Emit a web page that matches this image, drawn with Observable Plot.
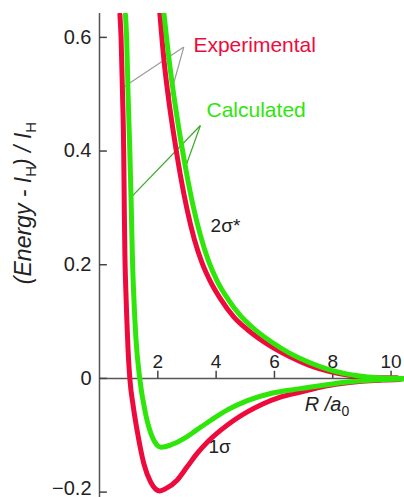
<!DOCTYPE html>
<html><head><meta charset="utf-8">
<script src="https://cdn.jsdelivr.net/npm/d3@7"></script>
<script src="https://cdn.jsdelivr.net/npm/@observablehq/plot@0.6"></script>
<style>
body{margin:0;background:#fff}
#chart{position:relative;width:404px;height:497px}
</style>
</head><body><div id="chart"></div>
<script>
// ---- data (R in a0, energy in units of I_H) ----
const expBondR = [0.70, 0.74, 0.79, 0.83, 0.85, 0.87, 0.90, 0.94, 0.98, 1.04, 1.16, 1.29, 1.52, 1.76, 1.93, 2.07, 2.30, 2.66, 3.00, 3.35, 3.72, 4.15, 4.60, 5.07, 5.60, 6.20, 6.90, 7.60, 8.30, 9.00, 9.70, 10.30];
const expBondE = [0.64, 0.60, 0.50, 0.40, 0.30, 0.22, 0.16, 0.10, 0.05, 0.00, -0.05, -0.0915, -0.150, -0.183, -0.195, -0.198, -0.193, -0.179, -0.156, -0.132, -0.111, -0.0915, -0.074, -0.059, -0.045, -0.033, -0.024, -0.015, -0.009, -0.005, -0.003, -0.002];

const calcBondR = [0.89, 0.93, 0.98, 1.04, 1.09, 1.13, 1.18, 1.25, 1.38, 1.58, 1.81, 1.97, 2.12, 2.45, 2.89, 3.35, 3.81, 4.40, 5.07, 5.90, 6.89, 7.80, 8.60, 9.40, 10.46];
const calcBondE = [0.64, 0.60, 0.50, 0.40, 0.30, 0.21, 0.14, 0.07, 0.00, -0.062, -0.103, -0.117, -0.121, -0.117, -0.106, -0.090, -0.074, -0.055, -0.039, -0.026, -0.018, -0.011, -0.006, -0.003, -0.001];

const expAntiR = [2.07, 2.21, 2.40, 2.58, 2.78, 3.00, 3.25, 3.52, 3.81, 4.15, 4.61, 5.07, 5.80, 6.50, 7.20, 7.90, 8.60, 9.30, 10.20];
const expAntiE = [0.642, 0.560, 0.480, 0.418, 0.356, 0.298, 0.245, 0.203, 0.170, 0.140, 0.108, 0.086, 0.059, 0.039, 0.023, 0.012, 0.005, 0.001, 0.001];

const calcAntiR = [2.21, 2.40, 2.60, 2.80, 3.00, 3.20, 3.45, 3.75, 4.05, 4.40, 4.84, 5.24, 5.90, 6.50, 7.20, 7.90, 8.80, 9.60, 10.46];
const calcAntiE = [0.642, 0.555, 0.480, 0.415, 0.357, 0.306, 0.254, 0.205, 0.170, 0.140, 0.110, 0.090, 0.064, 0.045, 0.028, 0.015, 0.005, 0.001, 0.000];

const yTicks = [-0.2, 0, 0.2, 0.4, 0.6];
const yTickLabels = ["\u22120.2", "0", "0.2", "0.4", "0.6"];
const xTicks = [2, 4, 6, 8, 10];
const xTickLabels = ["2", "4", "6", "8", "10"];

const seriesNames = ["Experimental", "Calculated"];
const curveLabels = ["2\u03c3*", "1\u03c3"];

// annotation pointer lines (data coordinates)
const expPointers = [
  {x1: 2.89, y1: 0.583, x2: 0.78, y2: 0.511},
  {x1: 2.89, y1: 0.583, x2: 2.38, y2: 0.489}
];
const calcPointers = [
  {x1: 3.46, y1: 0.445, x2: 1.03, y2: 0.316},
  {x1: 3.46, y1: 0.445, x2: 2.95, y2: 0.372}
];

const RED = "#ee0a3c";
const GREEN = "#2ee60a";
const FONT = "'Liberation Sans', Arial, Helvetica, sans-serif";

const rows = (R, E) => R.map((r, i) => ({R: r, E: E[i]}));

const chart = Plot.plot({
  width: 404,
  height: 497,
  marginLeft: 99,
  marginRight: 0,
  marginTop: 13,
  marginBottom: 0,
  x: {domain: [0, 10.46], axis: null},
  y: {domain: [-0.2095, 0.642], axis: null},
  style: {fontFamily: FONT, background: "white", overflow: "visible"},
  marks: [
    // axes lines
    Plot.ruleX([0], {stroke: "#555", strokeWidth: 1.5}),
    Plot.ruleY([0], {stroke: "#555", strokeWidth: 1.5}),
    // y ticks (pointing inward) + labels
    Plot.ruleY(yTicks, {y: d => d, x1: 0, x2: 0.27, stroke: "#444", strokeWidth: 1.5}),
    Plot.text(yTicks.slice(1), {x: 0, y: d => d, text: (d, i) => yTickLabels[i + 1], textAnchor: "end", dx: -8, fontSize: 20, fill: "#222"}),
    Plot.text(yTicks.slice(0, 1), {x: 0, y: d => d, text: (d, i) => yTickLabels[i], textAnchor: "end", dx: -8, dy: -4, fontSize: 20, fill: "#222"}),
    // x ticks (above axis) + labels
    Plot.ruleX(xTicks, {x: d => d, y1: 0, y2: 0.0125, stroke: "#444", strokeWidth: 1.5}),
    Plot.text(xTicks, {x: d => d, y: 0, text: (d, i) => xTickLabels[i], dy: -17, fontSize: 19, fill: "#222"}),
    // pointer lines
    Plot.link(expPointers, {x1: "x1", y1: "y1", x2: "x2", y2: "y2", stroke: "#9a9a9a", strokeWidth: 1.2}),
    Plot.link(calcPointers, {x1: "x1", y1: "y1", x2: "x2", y2: "y2", stroke: "#3aa828", strokeWidth: 1.2}),
    // curves
    Plot.line(rows(expBondR, expBondE), {x: "R", y: "E", stroke: RED, strokeWidth: 5, curve: "monotone-x", clip: true}),
    Plot.line(rows(expAntiR, expAntiE), {x: "R", y: "E", stroke: RED, strokeWidth: 5, curve: "monotone-x", clip: true}),
    Plot.line(rows(calcBondR, calcBondE), {x: "R", y: "E", stroke: GREEN, strokeWidth: 5, curve: "monotone-x", clip: true}),
    Plot.line(rows(calcAntiR, calcAntiE), {x: "R", y: "E", stroke: GREEN, strokeWidth: 5, curve: "monotone-x", clip: true}),
    // labels
    Plot.text([seriesNames[0]], {x: 3.22, y: 0.586, text: d => d, textAnchor: "start", fontSize: 21, fill: RED}),
    Plot.text([seriesNames[1]], {x: 3.67, y: 0.472, text: d => d, textAnchor: "start", fontSize: 21, fill: GREEN}),
    Plot.text([curveLabels[0]], {x: 3.81, y: 0.269, text: d => d, textAnchor: "start", fontSize: 19, fill: "#222"}),
    Plot.text([curveLabels[1]], {x: 3.74, y: -0.121, text: d => d, textAnchor: "start", fontSize: 19, fill: "#222"})
  ]
});

document.getElementById("chart").appendChild(chart);

// rich-text labels (italics and subscripts)
const svg = d3.select(chart);
const sx = chart.scale("x"), sy = chart.scale("y");

const yl = svg.append("text")
  .attr("transform", "translate(31,203) rotate(-90)")
  .attr("text-anchor", "middle")
  .attr("font-family", FONT)
  .attr("font-size", 23)
  .attr("fill", "#222");
yl.append("tspan").attr("font-style", "italic").text("(Energy - I");
yl.append("tspan").attr("font-size", 15).attr("dy", 5).text("H");
yl.append("tspan").attr("font-style", "italic").attr("dy", -5).text(") / I");
yl.append("tspan").attr("font-size", 15).attr("dy", 5).text("H");

const xl = svg.append("text")
  .attr("x", sx.apply(7.82))
  .attr("y", sy.apply(-0.058))
  .attr("font-family", FONT)
  .attr("font-size", 20)
  .attr("fill", "#222");
xl.append("tspan").attr("font-style", "italic").text("R");
xl.append("tspan").attr("font-style", "italic").text(" /a");
xl.append("tspan").attr("font-size", 14).attr("dy", 5).text("0");
</script>
</body></html>
